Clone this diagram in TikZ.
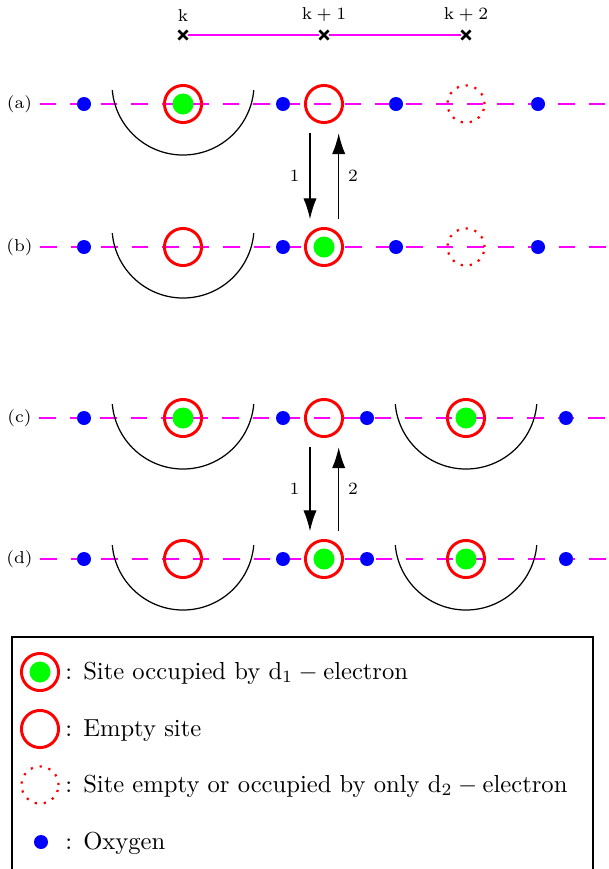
\documentclass[tikz,border=0pt]{standalone}
\usetikzlibrary{arrows.meta,shapes.misc}
\definecolor{linemag}{RGB}{255,0,255}

\begin{document}
\begin{tikzpicture}[x=1.428mm,y=1.428mm,
  site/.style={circle,draw=red,line width=1.2pt,minimum size=5.3mm,inner sep=0pt},
  occ/.style={site,path picture={\fill[green] (path picture bounding box.center) circle[radius=1.5mm];}},
  dsite/.style={circle,draw=red,line width=.9pt,dash pattern=on .9pt off 2.8pt,minimum size=5.3mm,inner sep=0pt},
  oxy/.style={circle,fill=blue,minimum size=2mm,inner sep=0pt},
  lattice/.style={linemag,line width=.8pt,dash pattern=on 6.7pt off 5.7pt},
  shell/.style={draw=black,line width=.5pt},
  hop/.style={-{Latex[length=3mm,width=1.9mm]},line width=.6pt},
  tick/.style={cross out,draw,line width=1.1pt,minimum size=.9mm,inner sep=0pt},
  rowlbl/.style={font=\scriptsize,inner sep=0pt},
  keytxt/.style={anchor=base west,inner sep=0pt}]
 \useasboundingbox (0,0) rectangle (60.9,-86.9);
 % site index scale
 \node[tick,label={[font=\scriptsize]above:$\mathrm{k}$}] (k0) at (18.3,-3.5) {};
 \node[tick,label={[font=\scriptsize]above:$\mathrm{k+1}$}] (k1) at (32.4,-3.5) {};
 \node[tick,label={[font=\scriptsize]above:$\mathrm{k+2}$}] (k2) at (46.6,-3.5) {};
 \draw[linemag,line width=.7pt] (k0) -- (k1) -- (k2);
 % row (a)
 \node[rowlbl] (la) at (1.95,-10.4) {(a)};
 \coordinate (ea) at (62,-10.4);
 \draw[lattice] ([xshift=1mm]la.east) -- (ea);
 \node[occ] (a1) at (18.3,-10.4) {};
 \node[site] (a2) at (32.4,-10.4) {};
 \node[dsite] (a3) at (46.6,-10.4) {};
 \draw[shell] ([shift={(-7.07,1.38)}]a1.center) arc[start angle=185,end angle=355,radius=7.1];
 \node[oxy] (oa1) at (8.4,-10.4) {};
 \node[oxy] (oa2) at (28.3,-10.4) {};
 \node[oxy] (oa3) at (39.6,-10.4) {};
 \node[oxy] (oa4) at (53.8,-10.4) {};
 % row (b)
 \node[rowlbl] (lb) at (1.95,-24.7) {(b)};
 \coordinate (eb) at (62,-24.7);
 \draw[lattice] ([xshift=1mm]lb.east) -- (eb);
 \node[site] (b1) at (18.3,-24.7) {};
 \node[occ] (b2) at (32.4,-24.7) {};
 \node[dsite] (b3) at (46.6,-24.7) {};
 \draw[shell] ([shift={(-7.07,1.38)}]b1.center) arc[start angle=185,end angle=355,radius=7.1];
 \node[oxy] (ob1) at (8.4,-24.7) {};
 \node[oxy] (ob2) at (28.3,-24.7) {};
 \node[oxy] (ob3) at (39.6,-24.7) {};
 \node[oxy] (ob4) at (53.8,-24.7) {};
 \draw[hop] ([shift={(-2mm,-1.3mm)}]a2.south) -- node[rowlbl,left=4pt] (h1) {1} ([shift={(-2mm,1.1mm)}]b2.north);
 \draw[hop] ([shift={(2.1mm,1.1mm)}]b2.north) -- node[rowlbl,right=3.5pt] (h2) {2} ([shift={(2.1mm,-1.3mm)}]a2.south);
 % row (c)
 \node[rowlbl] (lc) at (1.95,-41.8) {(c)};
 \coordinate (ec) at (62,-41.8);
 \draw[lattice] ([xshift=1mm]lc.east) -- (ec);
 \node[occ] (c1) at (18.3,-41.8) {};
 \node[site] (c2) at (32.4,-41.8) {};
 \node[occ] (c3) at (46.6,-41.8) {};
 \draw[shell] ([shift={(-7.07,1.38)}]c1.center) arc[start angle=185,end angle=355,radius=7.1];
 \draw[shell] ([shift={(-7.07,1.38)}]c3.center) arc[start angle=185,end angle=355,radius=7.1];
 \node[oxy] (oc1) at (8.4,-41.8) {};
 \node[oxy] (oc2) at (28.3,-41.8) {};
 \node[oxy] (oc3) at (36.7,-41.8) {};
 \node[oxy] (oc4) at (56.6,-41.8) {};
 % row (d)
 \node[rowlbl] (ld) at (1.95,-55.9) {(d)};
 \coordinate (ed) at (62,-55.9);
 \draw[lattice] ([xshift=1mm]ld.east) -- (ed);
 \node[site] (d1) at (18.3,-55.9) {};
 \node[occ] (d2) at (32.4,-55.9) {};
 \node[occ] (d3) at (46.6,-55.9) {};
 \draw[shell] ([shift={(-7.07,1.38)}]d1.center) arc[start angle=185,end angle=355,radius=7.1];
 \draw[shell] ([shift={(-7.07,1.38)}]d3.center) arc[start angle=185,end angle=355,radius=7.1];
 \node[oxy] (od1) at (8.4,-55.9) {};
 \node[oxy] (od2) at (28.3,-55.9) {};
 \node[oxy] (od3) at (36.7,-55.9) {};
 \node[oxy] (od4) at (56.6,-55.9) {};
 \draw[hop] ([shift={(-2mm,-1.3mm)}]c2.south) -- node[rowlbl,left=4pt] (h3) {1} ([shift={(-2mm,1.1mm)}]d2.north);
 \draw[hop] ([shift={(2.1mm,1.1mm)}]d2.north) -- node[rowlbl,right=3.5pt] (h4) {2} ([shift={(2.1mm,-1.3mm)}]c2.south);
 % legend
 \draw[line width=.5pt] (1.2,-63.7) rectangle (59.3,-95);
 \node[occ] (s1) at (4.0,-67.2) {};
 \node[site] (s2) at (4.0,-72.9) {};
 \node[dsite] (s3) at (4.0,-78.5) {};
 \node[oxy] (s4) at (4.1,-84.2) {};
 \node[keytxt] (t1) at (6.5,-67.9) {: Site occupied by $\mathrm{d_1-electron}$};
 \node[keytxt] (t2) at (6.5,-73.6) {: Empty site};
 \node[keytxt] (t3) at (6.5,-79.2) {: Site empty or occupied by only $\mathrm{d_2-electron}$};
 \node[keytxt] (t4) at (6.5,-84.9) {: Oxygen};
\end{tikzpicture}
\end{document}
